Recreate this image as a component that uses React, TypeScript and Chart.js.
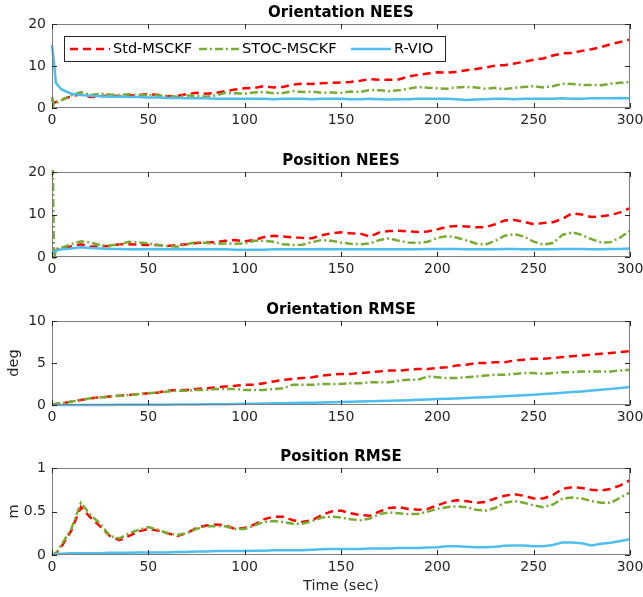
import { useEffect, useRef } from "react";
import { Chart, registerables } from "chart.js";
Chart.register(...registerables);

// ---- data ----
const TIME = [0, 1, 2, 3,
  5, 10, 15, 20, 25, 30, 35, 40, 45, 50,
  55, 60, 65, 70, 75, 80, 85, 90, 95, 100,
  105, 110, 115, 120, 125, 130, 135, 140, 145, 150,
  155, 160, 165, 170, 175, 180, 185, 190, 195, 200,
  205, 210, 215, 220, 225, 230, 235, 240, 245, 250,
  255, 260, 265, 270, 275, 280, 285, 290, 295, 300];

const SERIES_NAMES = ["Std-MSCKF", "STOC-MSCKF", "R-VIO"];
const TITLES = ["Orientation NEES", "Position NEES", "Orientation RMSE", "Position RMSE"];
const X_TICK_STEP = 50;
const Y_MAX = [20, 20, 10, 1];
const Y_STEP = [10, 10, 5, 0.5];
const Y_LABELS = ["", "", "deg", "m"];
const X_LABEL = "Time (sec)";

const ON_STD = [2.0, 1.2, 1.4, 1.6,
  2.0, 2.8, 3.2, 2.6, 2.8, 3.0, 2.8, 3.0, 3.1, 3.3,
  3.1, 2.8, 2.9, 3.3, 3.6, 3.4, 3.6, 4.0, 4.4, 4.7,
  4.8, 5.2, 4.9, 5.0, 5.6, 5.8, 5.7, 5.9, 6.0, 6.1,
  6.2, 6.5, 6.9, 6.7, 6.7, 6.8, 7.5, 7.9, 8.2, 8.5,
  8.4, 8.6, 9.0, 9.3, 9.6, 10.1, 10.2, 10.6, 11.0, 11.5,
  11.8, 12.5, 13.0, 13.1, 13.6, 14.0, 14.5, 15.2, 15.7, 16.3];
const ON_STOC = [2.6, 0.8, 1.2, 1.4,
  1.9, 3.0, 3.8, 3.1, 3.4, 3.2, 3.1, 3.3, 3.0, 3.1,
  3.0, 2.8, 2.7, 3.0, 2.9, 2.7, 3.0, 3.6, 3.5, 3.4,
  3.7, 3.8, 3.5, 3.6, 4.0, 3.8, 3.9, 3.6, 3.7, 3.6,
  3.9, 3.8, 4.3, 4.2, 4.0, 4.2, 4.6, 5.0, 4.8, 4.7,
  4.6, 4.9, 5.0, 4.9, 4.6, 4.8, 4.5, 4.8, 5.0, 5.2,
  4.9, 5.2, 5.8, 5.7, 5.5, 5.5, 5.4, 5.8, 6.0, 6.2];
const ON_RVIO = [15.0, 11.0, 6.0, 5.4,
  4.4, 3.4, 3.1, 2.9, 2.8, 2.7, 2.7, 2.6, 2.6, 2.5,
  2.5, 2.4, 2.4, 2.3, 2.3, 2.3, 2.2, 2.2, 2.2, 2.2,
  2.2, 2.2, 2.1, 2.2, 2.2, 2.2, 2.1, 2.2, 2.2, 2.2,
  2.1, 2.1, 2.2, 2.1, 2.0, 2.1, 2.1, 2.2, 2.2, 2.2,
  2.2, 2.1, 1.9, 2.0, 2.1, 2.2, 2.2, 2.1, 2.2, 2.2,
  2.2, 2.2, 2.3, 2.2, 2.2, 2.3, 2.3, 2.3, 2.4, 2.3];

const PN_STD = [1.2, 1.3, 1.6, 1.8,
  2.0, 2.5, 3.0, 2.4, 2.5, 2.6, 3.0, 3.0, 2.9, 2.8,
  2.8, 2.6, 2.8, 3.0, 3.3, 3.4, 3.5, 3.8, 4.0, 3.7,
  4.0, 4.7, 5.0, 4.8, 4.6, 4.5, 4.4, 5.1, 5.6, 5.8,
  5.6, 5.5, 4.8, 5.8, 6.1, 6.2, 6.0, 5.9, 6.0, 6.5,
  7.1, 7.3, 7.2, 7.0, 7.0, 7.7, 8.6, 8.7, 8.3, 7.7,
  8.0, 8.2, 9.0, 10.3, 10.0, 9.4, 9.6, 9.9, 10.5, 11.5];
const PN_STOC = [40, -1, 1.8, 2.0,
  2.2, 3.0, 3.7, 3.4, 2.8, 2.7, 3.0, 3.6, 3.4, 3.2,
  2.8, 2.6, 2.4, 3.0, 3.5, 3.3, 3.1, 3.2, 3.1, 3.2,
  3.8, 3.8, 3.6, 3.0, 2.8, 2.9, 3.5, 4.0, 3.8, 3.4,
  3.1, 3.0, 3.2, 4.0, 4.4, 3.8, 3.4, 3.3, 3.6, 4.5,
  4.9, 4.6, 3.9, 3.2, 2.9, 3.8, 5.0, 5.4, 4.8, 3.6,
  2.9, 3.3, 5.2, 5.8, 5.2, 4.2, 3.4, 3.5, 4.6, 6.2];
const PN_RVIO = [0.8, 1.2, 1.5, 1.6,
  1.8, 2.0, 2.3, 2.1, 2.0, 1.9, 1.9, 1.8, 1.8, 1.8,
  1.9, 1.8, 1.8, 1.8, 1.8, 1.8, 1.8, 1.8, 1.7, 1.7,
  1.7, 1.7, 1.8, 1.8, 1.8, 1.8, 1.8, 1.9, 1.8, 1.8,
  1.8, 1.8, 1.8, 1.8, 1.8, 1.8, 1.8, 1.8, 1.9, 1.9,
  1.9, 1.9, 1.8, 1.8, 1.8, 1.8, 1.9, 1.9, 1.8, 1.8,
  1.8, 1.8, 1.9, 1.9, 1.9, 1.8, 1.8, 1.9, 1.9, 2.0];

const OR_STD = [0.0, 0.05, 0.1, 0.15,
  0.2, 0.4, 0.6, 0.8, 0.9, 1.0, 1.1, 1.2, 1.3, 1.4,
  1.5, 1.7, 1.8, 1.8, 1.9, 2.0, 2.1, 2.2, 2.3, 2.4,
  2.4, 2.6, 2.8, 3.0, 3.1, 3.2, 3.3, 3.5, 3.6, 3.7,
  3.7, 3.8, 3.9, 4.0, 4.1, 4.1, 4.2, 4.3, 4.3, 4.4,
  4.5, 4.7, 4.8, 5.0, 5.0, 5.1, 5.1, 5.3, 5.4, 5.5,
  5.5, 5.6, 5.7, 5.8, 5.9, 6.0, 6.1, 6.2, 6.3, 6.4];
const OR_STOC = [0.1, 0.12, 0.15, 0.18,
  0.2, 0.4, 0.6, 0.8, 0.9, 1.0, 1.1, 1.2, 1.3, 1.4,
  1.5, 1.6, 1.7, 1.7, 1.8, 1.8, 1.9, 1.9, 1.9, 1.8,
  1.8, 1.8, 1.9, 2.0, 2.4, 2.4, 2.4, 2.5, 2.5, 2.5,
  2.6, 2.6, 2.7, 2.7, 2.7, 2.9, 3.0, 3.0, 3.4, 3.3,
  3.2, 3.2, 3.3, 3.4, 3.5, 3.6, 3.6, 3.7, 3.8, 3.8,
  3.7, 3.8, 3.9, 3.9, 4.0, 4.0, 4.0, 4.0, 4.1, 4.2];
const OR_RVIO = [0, 0, 0, 0,
  0.0, 0.0, 0.0, 0.01, 0.01, 0.01, 0.02, 0.02, 0.03, 0.03,
  0.04, 0.04, 0.05, 0.06, 0.07, 0.08, 0.09, 0.10, 0.12, 0.14,
  0.16, 0.18, 0.20, 0.22, 0.24, 0.26, 0.28, 0.30, 0.33, 0.36,
  0.39, 0.42, 0.45, 0.48, 0.51, 0.54, 0.58, 0.62, 0.66, 0.70,
  0.74, 0.78, 0.83, 0.88, 0.93, 0.98, 1.04, 1.10, 1.16, 1.22,
  1.30, 1.38, 1.46, 1.54, 1.62, 1.72, 1.82, 1.92, 2.02, 2.15];

const PR_STD = [0.0, 0.01, 0.02, 0.04,
  0.1, 0.28, 0.55, 0.43, 0.33, 0.22, 0.17, 0.22, 0.27, 0.30,
  0.28, 0.25, 0.22, 0.25, 0.31, 0.34, 0.35, 0.34, 0.30, 0.31,
  0.35, 0.41, 0.44, 0.44, 0.40, 0.38, 0.40, 0.46, 0.50, 0.51,
  0.48, 0.46, 0.45, 0.50, 0.54, 0.55, 0.53, 0.52, 0.53, 0.57,
  0.61, 0.63, 0.62, 0.60, 0.61, 0.65, 0.68, 0.70, 0.68, 0.65,
  0.65, 0.69, 0.76, 0.78, 0.77, 0.75, 0.74, 0.76, 0.80, 0.86];
const PR_STOC = [0.0, 0.01, 0.02, 0.05,
  0.12, 0.3, 0.6, 0.46, 0.36, 0.22, 0.19, 0.25, 0.29, 0.32,
  0.29, 0.25, 0.23, 0.25, 0.30, 0.33, 0.33, 0.33, 0.30, 0.30,
  0.34, 0.38, 0.39, 0.38, 0.36, 0.36, 0.39, 0.43, 0.44, 0.43,
  0.41, 0.40, 0.42, 0.47, 0.49, 0.48, 0.47, 0.47, 0.50, 0.53,
  0.55, 0.56, 0.55, 0.52, 0.51, 0.54, 0.60, 0.62, 0.60, 0.57,
  0.55, 0.58, 0.65, 0.66, 0.65, 0.62, 0.60, 0.60, 0.66, 0.72];
const PR_RVIO = [0.0, 0.005, 0.01, 0.012,
  0.015, 0.02, 0.02, 0.02, 0.02, 0.025, 0.025, 0.025, 0.03, 0.03,
  0.03, 0.03, 0.035, 0.035, 0.04, 0.04, 0.045, 0.045, 0.045, 0.045,
  0.05, 0.05, 0.055, 0.055, 0.055, 0.055, 0.06, 0.065, 0.07, 0.07,
  0.07, 0.07, 0.075, 0.075, 0.075, 0.08, 0.08, 0.08, 0.085, 0.09,
  0.1, 0.1, 0.095, 0.09, 0.09, 0.095, 0.105, 0.11, 0.11, 0.10,
  0.10, 0.115, 0.145, 0.145, 0.135, 0.11, 0.13, 0.14, 0.16, 0.18];

const PANEL_DATA = [
  [ON_STD, ON_STOC, ON_RVIO],
  [PN_STD, PN_STOC, PN_RVIO],
  [OR_STD, OR_STOC, OR_RVIO],
  [PR_STD, PR_STOC, PR_RVIO],
];

// ---- styles ----
const FONT = "'DejaVu Sans', sans-serif";
const TEXT = "#262626";
const COLORS = ["#ff0000", "#77ac30", "#4dbeee"];
const DASHES = [[8, 5], [8, 3, 2, 3], []];
const ORDERS = [3, 2, 1];
const LAYOUT = [
  { top: 0, height: 148, xHeight: 40, padBottom: 0 },
  { top: 148, height: 149, xHeight: 40, padBottom: 0 },
  { top: 297, height: 147, xHeight: 39, padBottom: 0 },
  { top: 444, height: 153, xHeight: 42, padBottom: 0 },
];

const framePlugin = {
  id: "matlabFrame",
  afterDatasetsDraw(chart: any, _a: any, opts: any) {
    const { ctx, chartArea: a, scales } = chart;
    ctx.save();
    // title
    ctx.fillStyle = "#000";
    ctx.font = `bold 15px ${FONT}`;
    ctx.textAlign = "center";
    ctx.textBaseline = "middle";
    ctx.fillText(opts.title, (a.left + a.right) / 2, a.top - 11);
    // box
    ctx.strokeStyle = "#7f7f7f";
    ctx.lineWidth = 1;
    ctx.strokeRect(Math.round(a.left) + 0.5, Math.round(a.top) + 0.5, Math.round(a.right - a.left) - 1, Math.round(a.bottom - a.top) - 1);
    // inward ticks
    ctx.strokeStyle = TEXT;
    ctx.beginPath();
    const tl = 5;
    for (const t of scales.x.ticks) {
      const px = Math.round(scales.x.getPixelForValue(t.value)) + 0.5;
      ctx.moveTo(px, a.bottom); ctx.lineTo(px, a.bottom - tl);
      ctx.moveTo(px, a.top); ctx.lineTo(px, a.top + tl);
    }
    for (const t of scales.y.ticks) {
      const py = Math.round(scales.y.getPixelForValue(t.value)) + 0.5;
      ctx.moveTo(a.left, py); ctx.lineTo(a.left + tl, py);
      ctx.moveTo(a.right, py); ctx.lineTo(a.right - tl, py);
    }
    ctx.stroke();
    ctx.restore();
  },
};

const legendPlugin = {
  id: "boxLegend",
  afterDraw(chart: any, _a: any, opts: any) {
    if (!opts.show) return;
    const { ctx, chartArea: a } = chart;
    const x0 = Math.round(a.left) + 12;
    const y0 = Math.round(a.top) + 12;
    const w = 381, h = 25;
    ctx.save();
    ctx.fillStyle = "#fff";
    ctx.fillRect(x0, y0, w, h);
    ctx.strokeStyle = TEXT;
    ctx.lineWidth = 1;
    ctx.strokeRect(x0 + 0.5, y0 + 0.5, w, h);
    const offsets = [6, 135, 287];
    const cy = y0 + h / 2 + 0.5;
    chart.data.datasets.forEach((ds: any, i: number) => {
      const sx = x0 + offsets[i];
      ctx.strokeStyle = ds.borderColor;
      ctx.lineWidth = ds.borderWidth;
      ctx.setLineDash(ds.borderDash || []);
      ctx.beginPath();
      ctx.moveTo(sx, cy);
      ctx.lineTo(sx + 40, cy);
      ctx.stroke();
      ctx.setLineDash([]);
      ctx.fillStyle = "#000";
      ctx.font = `14.5px ${FONT}`;
      ctx.textAlign = "left";
      ctx.textBaseline = "middle";
      ctx.fillText(ds.label, sx + 43, cy);
    });
    ctx.restore();
  },
};

function Panel({ index }: { index: number }) {
  const ref = useRef<HTMLCanvasElement>(null);
  const lay = LAYOUT[index];
  useEffect(() => {
    const series = PANEL_DATA[index];
    const chart = new Chart(ref.current!, {
      type: "line",
      data: {
        datasets: SERIES_NAMES.map((name, s) => ({
          label: name,
          data: TIME.map((t, i) => ({ x: t, y: series[s][i] })),
          borderColor: COLORS[s],
          borderDash: DASHES[s],
          borderWidth: 2.5,
          pointRadius: 0,
          tension: 0,
          order: ORDERS[s],
          clip: 2,
        })),
      },
      options: {
        animation: false,
        responsive: false,
        devicePixelRatio: 1,
        layout: { padding: { top: 24, right: 13, left: 0, bottom: lay.padBottom } },
        plugins: {
          legend: { display: false },
          tooltip: { enabled: false },
          matlabFrame: { title: TITLES[index] },
          boxLegend: { show: index === 0 },
        } as any,
        scales: {
          x: {
            type: "linear",
            min: 0,
            max: 300,
            ticks: { stepSize: X_TICK_STEP, padding: 4, color: TEXT, font: { family: FONT, size: 14 }, maxRotation: 0 },
            grid: { display: false, drawTicks: false },
            border: { display: false },
            title: index === 3
              ? { display: true, text: X_LABEL, color: TEXT, font: { family: FONT, size: 14.5 }, padding: 2 }
              : { display: false },
            afterFit: (s: any) => { s.height = lay.xHeight; s.paddingLeft = 0; s.paddingRight = 0; },
          },
          y: {
            type: "linear",
            min: 0,
            max: Y_MAX[index],
            ticks: {
              stepSize: Y_STEP[index], padding: 6, color: TEXT, font: { family: FONT, size: 14 },
              callback: (v: any) => String(+v),
            },
            grid: { display: false, drawTicks: false },
            border: { display: false },
            title: Y_LABELS[index]
              ? { display: true, text: Y_LABELS[index], color: TEXT, font: { family: FONT, size: 14.5 }, padding: 6 }
              : { display: false },
            afterFit: (s: any) => { s.width = 52; },
          },
        },
      } as any,
      plugins: [framePlugin, legendPlugin],
    });
    return () => chart.destroy();
  }, [index]);
  return (
    <canvas
      ref={ref}
      width={643}
      height={lay.height}
      style={{ position: "absolute", left: 0, top: lay.top, width: 643, height: lay.height }}
    />
  );
}

export default function App() {
  return (
    <div style={{ position: "absolute", left: 0, top: 0, width: 643, height: 597, background: "#fff" }}>
      {[0, 1, 2, 3].map((i) => (
        <Panel key={i} index={i} />
      ))}
    </div>
  );
}
